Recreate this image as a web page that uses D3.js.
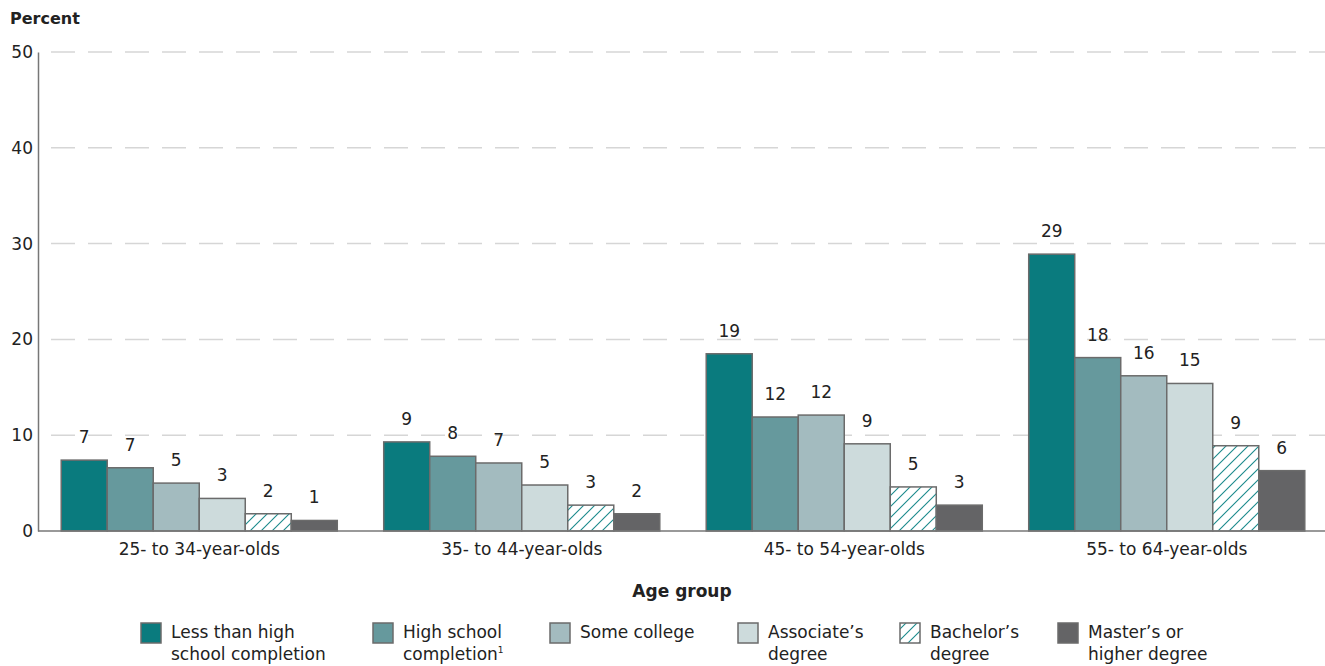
<!DOCTYPE html>
<html><head><meta charset="utf-8">
<script src="https://cdn.jsdelivr.net/npm/d3@7"></script>
<style>body{margin:0;background:#fff}svg{display:block;font-family:"DejaVu Sans",sans-serif}</style>
</head><body><svg id="c" width="1325" height="666"></svg>
<script>
const ageGroups = ["25- to 34-year-olds","35- to 44-year-olds","45- to 54-year-olds","55- to 64-year-olds"];
const seriesNames = ["Less than high school completion","High school completion","Some college","Associate's degree","Bachelor's degree","Master's or higher degree"];
const lessThanHS = [7.4, 9.3, 18.5, 28.9];
const highSchool = [6.6, 7.8, 11.9, 18.1];
const someCollege = [5.0, 7.1, 12.1, 16.2];
const associates = [3.4, 4.8, 9.1, 15.4];
const bachelors = [1.8, 2.7, 4.6, 8.9];
const masters = [1.1, 1.8, 2.7, 6.3];
const labelValues = [[7,9,19,29],[7,8,12,18],[5,7,12,16],[3,5,9,15],[2,3,5,9],[1,2,3,6]];
const yTicks = [0,10,20,30,40,50];
const legendLines = [["Less than high","school completion"],["High school","completion"],["Some college"],["Associate\u2019s","degree"],["Bachelor\u2019s","degree"],["Master\u2019s or","higher degree"]];

const series = [lessThanHS, highSchool, someCollege, associates, bachelors, masters];
const fills = ["#0a7b7e","#66999d","#a3bbbf","#cddbdc","url(#hatch)","#646466"];
const FONT = "'DejaVu Sans',sans-serif";
const FS = 17;

const svg = d3.select("#c");
const defs = svg.append("defs");
const pat = defs.append("pattern").attr("id","hatch").attr("patternUnits","userSpaceOnUse")
  .attr("width",11).attr("height",11);
pat.append("rect").attr("width",11).attr("height",11).attr("fill","#fff");
pat.append("path").attr("d","M-2,13 L13,-2 M-2,2 L2,-2 M9,13 L13,9").attr("stroke","#1a8a8c").attr("stroke-width",1.1);

const x0 = d3.scaleBand().domain(ageGroups).range([38,1328]).paddingInner(0.144).paddingOuter(0.072);
const x1 = d3.scaleBand().domain(d3.range(6)).range([0,x0.bandwidth()]);
const y = d3.scaleLinear().domain([0,50]).range([531,52]);

// gridlines
svg.append("g").selectAll("line").data(yTicks.filter(d=>d>0)).join("line")
  .attr("x1",38).attr("x2",1325).attr("y1",d=>y(d)).attr("y2",d=>y(d))
  .attr("stroke","#d6d6d6").attr("stroke-width",1.5).attr("stroke-dasharray","24,13").attr("stroke-dashoffset",-13);

// y axis
const yAxis = d3.axisLeft(y).tickValues(yTicks).tickSize(0).tickPadding(5);
const ya = svg.append("g").attr("transform","translate(38,0)").call(yAxis);
ya.select(".domain").attr("stroke","#777").attr("stroke-width",1.5);
ya.selectAll("text").attr("font-size",17).attr("fill","#222").attr("font-family",FONT);

// bars
series.forEach((vals,si)=>{
  svg.append("g").selectAll("rect").data(vals).join("rect")
    .attr("x",(d,i)=>x0(ageGroups[i])+x1(si))
    .attr("y",d=>y(d)).attr("width",x1.bandwidth()).attr("height",d=>y(0)-y(d))
    .attr("fill",fills[si]).attr("stroke","#6b6b6b").attr("stroke-width",1.5);
  svg.append("g").selectAll("text").data(vals).join("text")
    .attr("x",(d,i)=>x0(ageGroups[i])+x1(si)+x1.bandwidth()/2)
    .attr("y",d=>y(d)-17).attr("text-anchor","middle").attr("font-size",17).attr("fill","#222")
    .text((d,i)=>labelValues[si][i]);
});

// x axis
const xAxis = d3.axisBottom(x0).tickSize(0).tickPadding(12);
const xa = svg.append("g").attr("transform","translate(0,531)").call(xAxis);
xa.select(".domain").remove();
svg.append("line").attr("x1",38).attr("x2",1325).attr("y1",531).attr("y2",531).attr("stroke","#777").attr("stroke-width",1.5);
xa.selectAll("text").attr("font-size",FS).attr("fill","#222").attr("font-family",FONT);

// titles
svg.append("text").attr("x",10).attr("y",24).attr("font-size",16).attr("font-weight","bold").attr("fill","#222").text("Percent");
svg.append("text").attr("x",682).attr("y",597).attr("text-anchor","middle").attr("font-size",17).attr("font-weight","bold").attr("fill","#222").text("Age group");

// legend
const legX = [141,373,550,738,900,1058];
const lg = svg.append("g");
legendLines.forEach((lines,i)=>{
  lg.append("rect").attr("x",legX[i]).attr("y",623).attr("width",20).attr("height",20)
    .attr("fill",fills[i]).attr("stroke","#6b6b6b").attr("stroke-width",1.5);
  const t = lg.append("text").attr("x",legX[i]+30).attr("y",638).attr("font-size",FS).attr("fill","#222");
  lines.forEach((ln,j)=>{
    t.append("tspan").attr("x",legX[i]+30).attr("dy",j===0?0:22).text(ln);
    if(i===1 && j===1) t.append("tspan").attr("font-size",9).attr("dy",-7).text("1");
  });
});
</script></body></html>
